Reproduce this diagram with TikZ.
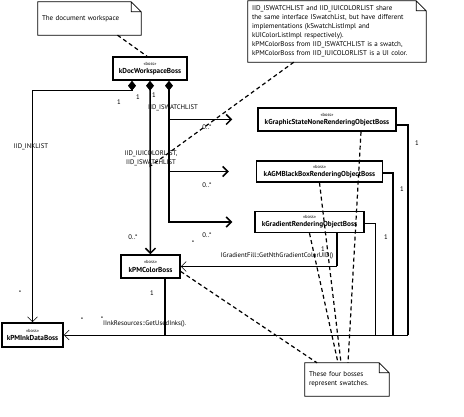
\documentclass[tikz,border=0pt]{standalone}
\usepackage{fontspec}
\setmainfont{PT Sans}
\usetikzlibrary{arrows.meta}

\tikzset{
  boss/.style={draw, line width=1.5pt, align=center, inner sep=0pt, font=\fontsize{7.2}{7.2}\selectfont\bfseries},
  note/.style={inner xsep=4pt, inner ysep=2pt, align=left, font=\fontsize{7}{9}\selectfont},
  lbl/.style={inner sep=0pt, font=\fontsize{6.7}{9}\selectfont},
  link/.style={line width=1.5pt},
  thinlink/.style={line width=0.7pt},
  dep/.style={line width=1.2pt, dash pattern=on 4pt off 3pt},
  dmd/.tip={Diamond[length=10pt,width=8pt]},
  opn/.tip={Straight Barb[length=5pt,width=10pt]},
}
\newcommand{\bossname}[1]{{\fontsize{4.5}{4.5}\selectfont\mdseries «boss»}\\[1pt]#1}

\begin{document}
\begin{tikzpicture}[x=1pt,y=-1pt]
  \useasboundingbox (0,0) rectangle (464,417);
  % notes
  \node[note, text width=95pt, minimum height=33pt] (docnote) at (89.5,18.5) {The document workspace};
  \node[note, text width=170pt, minimum height=61pt] (swnote) at (337,31.5) {IID\_ISWATCHLIST and IID\_IUICOLORLIST share\\
    the same interface ISwatchList, but have different\\
    implementations (kSwatchListImpl and\\
    kUIColorListImpl respectively).\\
    kPMColorBoss from IID\_ISWATCHLIST is a swatch,\\
    kPMColorBoss from IID\_IUICOLORLIST is a UI color.};
  \node[note, text width=76pt, minimum height=33pt] (bossnote) at (347,379.5) {These four bosses\\ represent swatches.};
  \foreach \n in {docnote,swnote,bossnote}
    \draw[thinlink] (\n.north west) -- ([xshift=-10pt]\n.north east) -- ([yshift=-10pt]\n.north east)
      -- (\n.south east) -- (\n.south west) -- cycle
      ([xshift=-10pt]\n.north east) |- ([yshift=-10pt]\n.north east);

  % bosses
  \node[boss, minimum width=74pt, minimum height=23pt] (kDoc) at (150,68.5) {\bossname{kDocWorkspaceBoss}};
  \node[boss, minimum width=138pt, minimum height=23pt] (kGSN) at (327,119.5) {\bossname{kGraphicStateNoneRenderingObjectBoss}};
  \node[boss, minimum width=126pt, minimum height=21pt] (kAGM) at (319.5,171.5) {\bossname{kAGMBlackBoxRenderingObjectBoss}};
  \node[boss, minimum width=109pt, minimum height=21pt] (kGrad) at (309.5,222) {\bossname{kGradientRenderingObjectBoss}};
  \node[boss, minimum width=59pt, minimum height=23pt] (kPMColor) at (150.5,266.5) {\bossname{kPMColorBoss}};
  \node[boss, minimum width=61pt, minimum height=24pt] (kPMInk) at (32.5,335) {\bossname{kPMInkDataBoss}};

  % compositions
  \draw[thinlink, dmd-opn] ([xshift=-18pt]kDoc.south) -- ++(0,10) -| (kPMInk.north);
  \draw[link, dmd-opn] (kDoc.south) -- (kPMColor.north);
  \coordinate (fork) at (169,119.5);
  \draw[link, dmd-opn] ([xshift=19pt]kDoc.south) |- ([xshift=-25pt]kGSN.west);
  \draw[link, -opn] (fork) |- ([xshift=-27pt]kAGM.west);
  \draw[link, -opn] (fork) |- ([xshift=-22pt]kGrad.west);

  % to the ink data
  \coordinate (gsnfoot) at (408,335);
  \coordinate (agmfoot) at (393,335);
  \coordinate (gradfoot) at (375,335);
  \coordinate (colfoot) at (165,335);
  \draw[link] ([yshift=-5.5pt]kGSN.east) -| (gsnfoot);
  \draw[link] ([yshift=-1.5pt]kAGM.east) -| (agmfoot);
  \draw[thinlink] ([yshift=-1pt]kGrad.east) -| (gradfoot);
  \draw[link] ([xshift=14.5pt]kPMColor.south) -- (colfoot);
  \draw[thinlink, -opn] (gsnfoot) -- (kPMInk.east);

  % gradient colour
  \coordinate (gradturn) at (337,266.5);
  \draw[link] ([xshift=27.5pt]kGrad.south) -- (gradturn);
  \draw[thinlink, -opn] (gradturn) -- (kPMColor.east);

  % labels
  \node[lbl] (mInk) at (119,102) {1};
  \node[lbl] (mCol) at (138,97) {1};
  \node[lbl] (mSw) at (154,95) {1};
  \node[lbl] (rInk) at (31,147) {IID\_INKLIST};
  \node[lbl] (rSw) at (173,108) {IID\_ISWATCHLIST};
  \node[lbl, align=center] (swlabel) at (151,158) {IID\_IUICOLORLIST,\\IID\_ISWATCHLIST};
  \node[lbl] (nGSN) at (207,127) {0..*};
  \node[lbl] (nAGM) at (207,185) {0..*};
  \node[lbl] (nGrad) at (207,235) {0..*};
  \node[lbl] (nCol) at (133,237) {0..*};
  \node[lbl] (nInk) at (20,293) {*};
  \node[lbl] (oGSN) at (417,143) {1};
  \node[lbl] (oAGM) at (402,189) {1};
  \node[lbl] (oGrad) at (386,237) {1};
  \node[lbl] (oCol) at (152,293) {1};
  \node[lbl] (gfStar) at (193,243) {*};
  \node[lbl] (gfOne) at (323,249) {1};
  \node[lbl] (gfName) at (277,256) {IGradientFill::GetNthGradientColorUID()};
  \node[lbl] (ukStar) at (82,320) {*};
  \node[lbl] (ukStar2) at (102,319) {*};
  \node[lbl, anchor=west] (ukName) at (103,324) {IInkResources::GetUsedInks().};

  % notes attached
  \draw[dep] ([xshift=28pt]docnote.south) -- ([xshift=-3pt]kDoc.north);
  \draw[dep] ([xshift=46pt]swnote.south west) -- (swlabel.south);
  \draw[dep] ([yshift=-5pt]kPMColor.east) -- ([xshift=-30pt]bossnote.north);
  \draw[dep] (kGrad.south) -- ([xshift=-9pt]bossnote.north);
  \draw[dep] (kAGM.south) -- ([xshift=-6pt]bossnote.north);
  \draw[dep] ([xshift=34pt]kGSN.south) -- ([xshift=1pt]bossnote.north);
\end{tikzpicture}
\end{document}
